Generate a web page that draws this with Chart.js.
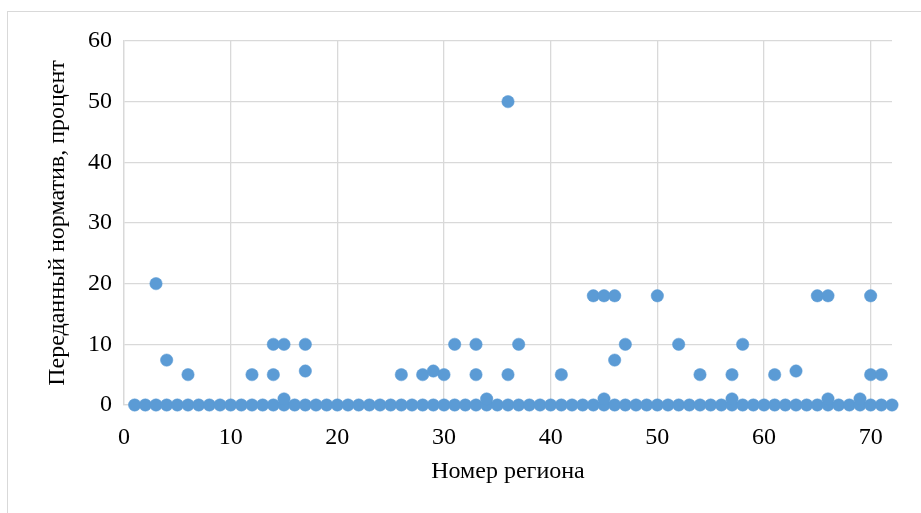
<!DOCTYPE html>
<html>
<head>
<meta charset="utf-8">
<script src="https://cdn.jsdelivr.net/npm/chart.js@4/dist/chart.umd.min.js"></script>
<style>
  html, body { margin: 0; padding: 0; background: #fff; width: 921px; height: 513px; overflow: hidden; }
  #frame { position: absolute; left: 7px; top: 11px; width: 930px; height: 520px; border: 1px solid #d9d9d9; box-sizing: border-box; }
  #wrap { position: absolute; left: 0; top: 0; width: 921px; height: 513px; }
</style>
</head>
<body>
<div id="frame"></div>
<div id="wrap"><canvas id="c" width="921" height="513"></canvas></div>
<script>
// Region numbers (x) and transferred normative, percent (y)
const regionNumbers = [
  1,2,3,4,5,6,7,8,9,10,11,12,13,14,15,16,17,18,19,20,21,22,23,24,25,26,27,28,29,30,31,32,33,34,35,36,
  37,38,39,40,41,42,43,44,45,46,47,48,49,50,51,52,53,54,55,56,57,58,59,60,61,62,63,64,65,66,67,68,69,70,71,72,
  3,4,6,12,14,14,15,15,17,17,26,28,29,30,31,33,33,34,36,36,37,41,44,45,45,46,46,47,50,52,54,57,57,58,61,63,65,66,66,69,70,70,71
];
const normativePercent = [
  0,0,0,0,0,0,0,0,0,0,0,0,0,0,0,0,0,0,0,0,0,0,0,0,0,0,0,0,0,0,0,0,0,0,0,0,
  0,0,0,0,0,0,0,0,0,0,0,0,0,0,0,0,0,0,0,0,0,0,0,0,0,0,0,0,0,0,0,0,0,0,0,0,
  20,7.4,5,5,10,5,10,1,10,5.6,5,5,5.6,5,10,10,5,1,50,5,10,5,18,18,1,18,7.4,10,18,10,5,5,1,10,5,5.6,18,18,1,1,18,5,5
];
const xTicks = [0,10,20,30,40,50,60,70];
const yTicks = [0,10,20,30,40,50,60];
const xTitle = 'Номер региона';
const yTitle = 'Переданный норматив, процент';

const points = regionNumbers.map((x, i) => ({ x: x, y: normativePercent[i] }));

const font = { family: "'Liberation Serif', 'Times New Roman', serif", size: 24 };
const gridColor = '#d9d9d9';

new Chart(document.getElementById('c'), {
  type: 'scatter',
  data: {
    datasets: [{
      data: points,
      backgroundColor: '#5B9BD5',
      borderColor: '#5B9BD5',
      borderWidth: 0.5,
      pointRadius: 6.2,
      pointHoverRadius: 6.2,
      clip: false
    }]
  },
  options: {
    responsive: false,
    animation: false,
    events: [],
    layout: { padding: { left: 0, top: 41, right: 29, bottom: 0 } },
    plugins: { legend: { display: false }, tooltip: { enabled: false } },
    scales: {
      x: {
        type: 'linear',
        min: 0, max: 72,
        afterBuildTicks: s => { s.ticks = xTicks.map(v => ({ value: v })); },
        afterFit: s => { s.height = 108; },
        grid: { color: gridColor, lineWidth: 1.3, drawTicks: false },
        border: { color: gridColor, width: 1.3 },
        ticks: { font: font, color: '#000', padding: 18, maxRotation: 0 },
        title: { display: true, text: xTitle, font: font, color: '#000', padding: { top: 0, bottom: 27 } }
      },
      y: {
        type: 'linear',
        min: 0, max: 60,
        afterBuildTicks: s => { s.ticks = yTicks.map(v => ({ value: v })); },
        afterFit: s => { s.width = 124; },
        grid: { color: gridColor, lineWidth: 1.3, drawTicks: false },
        border: { color: gridColor, width: 1.3 },
        ticks: { font: font, color: '#000', padding: 12 },
        title: { display: true, text: yTitle, font: font, color: '#000', padding: { top: 43, bottom: 0 } }
      }
    }
  }
});
</script>
</body>
</html>
